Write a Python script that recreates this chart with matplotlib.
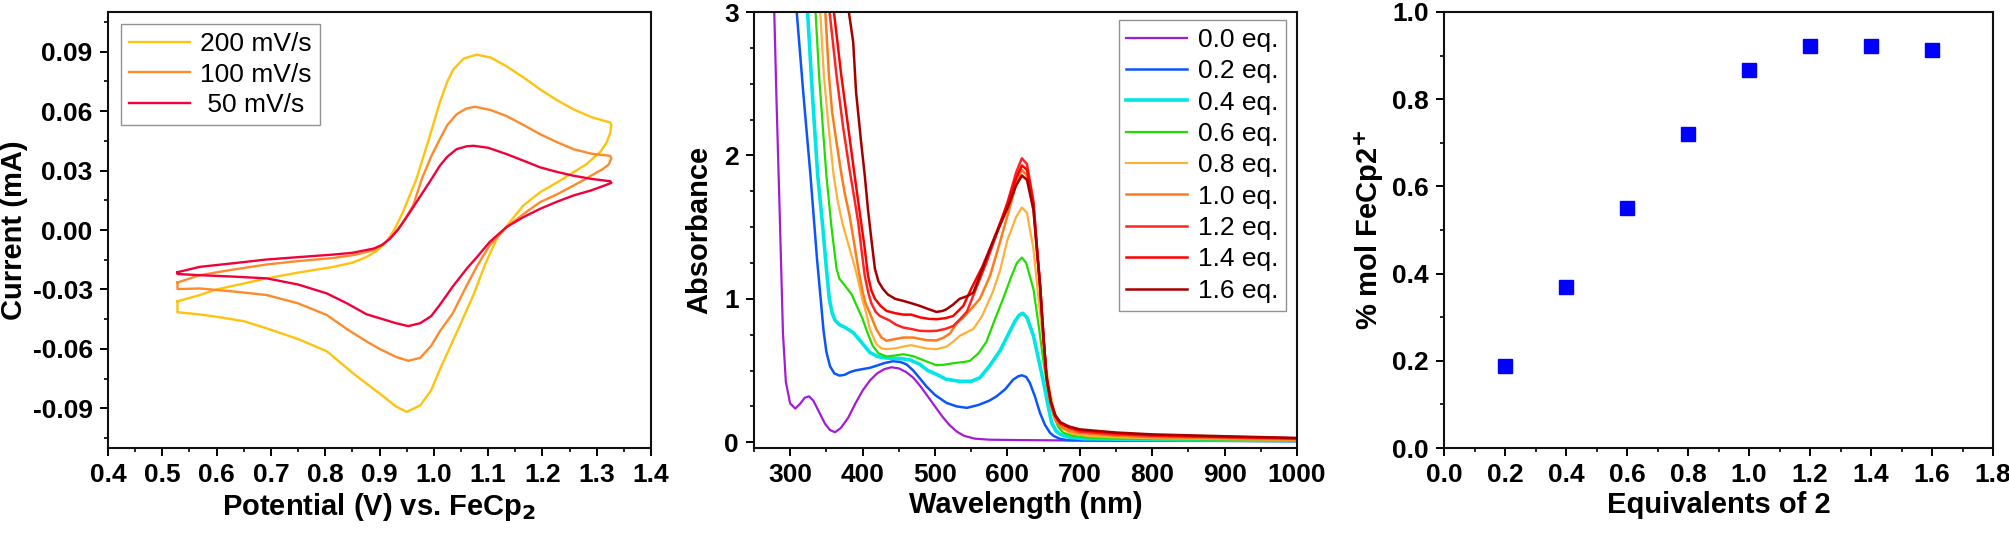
import numpy as np
import matplotlib
matplotlib.use("Agg")
import matplotlib.pyplot as plt
from matplotlib.ticker import MultipleLocator, FormatStrFormatter

plt.rcParams['font.family'] = ['Liberation Sans', 'DejaVu Sans']
plt.rcParams['axes.unicode_minus'] = False
plt.rcParams['mathtext.default'] = 'bf'

# ---- CV data (potential V vs FeCp2, current mA), one closed loop per scan rate
cv200 = [(0.528, -0.036), (0.569, -0.0328), (0.60, -0.030), (0.65, -0.027), (0.692, -0.0244),
         (0.75, -0.0215), (0.815, -0.0186), (0.85, -0.0165), (0.876, -0.0136), (0.895, -0.0105),
         (0.913, -0.006), (0.928, 0.0005), (0.943, 0.009), (0.955, 0.017), (0.968, 0.0258),
         (0.99, 0.045), (1.011, 0.0643), (1.025, 0.075), (1.036, 0.081), (1.055, 0.0865),
         (1.079, 0.0885), (1.105, 0.087), (1.134, 0.0826), (1.165, 0.077), (1.196, 0.0709),
         (1.227, 0.0655), (1.257, 0.0609), (1.29, 0.057), (1.325, 0.0542), (1.327, 0.053),
         (1.325, 0.049), (1.318, 0.044), (1.306, 0.0392), (1.28, 0.033), (1.257, 0.0291),
         (1.227, 0.024), (1.196, 0.0191), (1.165, 0.0124), (1.14, 0.004), (1.116, -0.0044),
         (1.095, -0.017), (1.073, -0.0328), (1.045, -0.050), (1.011, -0.0705), (0.995, -0.081),
         (0.975, -0.0885), (0.950, -0.0918), (0.93, -0.089), (0.905, -0.0835), (0.876, -0.0775),
         (0.85, -0.072), (0.803, -0.0612), (0.75, -0.055), (0.692, -0.0496), (0.65, -0.046),
         (0.60, -0.0438), (0.569, -0.0426), (0.528, -0.0415), (0.528, -0.036)]

cv100 = [(0.528, -0.0265), (0.569, -0.0228), (0.63, -0.020), (0.692, -0.0174), (0.75, -0.0157),
         (0.815, -0.0141), (0.855, -0.0125), (0.889, -0.0102), (0.91, -0.0065), (0.925, -0.0027),
         (0.945, 0.0045), (0.962, 0.0124), (0.978, 0.0258), (0.995, 0.037), (1.011, 0.0458),
         (1.025, 0.053), (1.042, 0.0584), (1.06, 0.0613), (1.076, 0.0622), (1.105, 0.0605),
         (1.134, 0.0575), (1.165, 0.053), (1.196, 0.0483), (1.227, 0.0443), (1.257, 0.0408),
         (1.29, 0.0385), (1.325, 0.0374), (1.327, 0.036), (1.322, 0.033), (1.31, 0.0305),
         (1.30, 0.0291), (1.28, 0.0258), (1.257, 0.0224), (1.227, 0.018), (1.196, 0.0141),
         (1.165, 0.008), (1.134, 0.0015), (1.103, -0.0077), (1.08, -0.018), (1.061, -0.0278),
         (1.035, -0.042), (1.011, -0.0512), (0.995, -0.0585), (0.975, -0.0645), (0.953, -0.066),
         (0.93, -0.064), (0.90, -0.060), (0.876, -0.0562), (0.84, -0.050), (0.803, -0.0429),
         (0.75, -0.037), (0.692, -0.0328), (0.63, -0.031), (0.569, -0.0295), (0.528, -0.0298),
         (0.528, -0.0265)]

cv50 = [(0.528, -0.0213), (0.569, -0.0186), (0.63, -0.0168), (0.692, -0.0149), (0.75, -0.0137),
        (0.815, -0.0124), (0.85, -0.0115), (0.889, -0.0094), (0.905, -0.0075), (0.919, -0.0044),
        (0.935, 0.0005), (0.956, 0.009), (0.975, 0.017), (0.996, 0.0258), (1.011, 0.0324),
        (1.025, 0.037), (1.042, 0.0408), (1.06, 0.0422), (1.073, 0.0425), (1.10, 0.0415),
        (1.134, 0.0383), (1.165, 0.035), (1.196, 0.0316), (1.227, 0.0293), (1.257, 0.0274),
        (1.29, 0.0258), (1.325, 0.0246), (1.327, 0.0238), (1.318, 0.0228), (1.29, 0.020),
        (1.257, 0.0174), (1.227, 0.0143), (1.196, 0.0107), (1.165, 0.0065), (1.134, 0.0015),
        (1.103, -0.006), (1.08, -0.0135), (1.061, -0.0194), (1.035, -0.0285), (1.011, -0.0378),
        (0.995, -0.0435), (0.975, -0.047), (0.953, -0.0485), (0.93, -0.047), (0.90, -0.0445),
        (0.876, -0.0425), (0.84, -0.037), (0.803, -0.032), (0.75, -0.0275), (0.692, -0.0244),
        (0.63, -0.0235), (0.569, -0.0228), (0.528, -0.0222), (0.528, -0.0213)]

cv_labels = ['200 mV/s', '100 mV/s', ' 50 mV/s']
cv_colors = ['#FFC20E', '#FF8A2B', '#F2003C']

# ---- UV-vis titration (wavelength nm, absorbance)
uv_00 = [(278, 3.0), (281, 2.4), (285, 1.69), (290, 0.76), (294, 0.42), (300, 0.27), (307, 0.235),
         (314, 0.27), (320, 0.31), (326, 0.32), (332, 0.29), (340, 0.21), (348, 0.13), (355, 0.085),
         (362, 0.07), (370, 0.10), (380, 0.17), (390, 0.27), (400, 0.36), (410, 0.43), (420, 0.48),
         (430, 0.51), (440, 0.523), (450, 0.515), (460, 0.49), (470, 0.45), (480, 0.39), (490, 0.32),
         (500, 0.25), (510, 0.18), (520, 0.12), (530, 0.075), (540, 0.045), (555, 0.025),
         (575, 0.018), (620, 0.015), (700, 0.012), (850, 0.01), (1000, 0.008)]
uv_02 = [(309, 3.0), (318, 2.44), (328, 1.86), (337, 1.28), (343, 0.95), (346, 0.78), (350, 0.63),
         (355, 0.53), (361, 0.48), (368, 0.465), (375, 0.47), (383, 0.49), (391, 0.502), (400, 0.51),
         (410, 0.519), (420, 0.535), (430, 0.552), (442, 0.565), (452, 0.56), (461, 0.542),
         (470, 0.50), (480, 0.44), (488, 0.39), (500, 0.33), (516, 0.274), (530, 0.25), (544, 0.24),
         (560, 0.26), (575, 0.29), (585, 0.32), (597, 0.37), (608, 0.437), (615, 0.46), (620, 0.467),
         (626, 0.455), (631, 0.414), (638, 0.32), (645, 0.205), (652, 0.12), (659, 0.065),
         (664, 0.044), (672, 0.025), (682, 0.015), (750, 0.012), (1000, 0.008)]
uv_04 = [(324, 3.0), (331, 2.4), (338, 1.86), (345, 1.5), (350, 1.21), (354, 1.0), (358, 0.9),
         (362, 0.85), (368, 0.82), (376, 0.80), (387, 0.765), (398, 0.70), (410, 0.626), (420, 0.60),
         (428, 0.59), (440, 0.585), (451, 0.584), (465, 0.575), (479, 0.544), (490, 0.50),
         (502, 0.474), (515, 0.44), (534, 0.425), (550, 0.425), (562, 0.45), (575, 0.53), (590, 0.64),
         (600, 0.74), (610, 0.84), (616, 0.885), (621, 0.90), (627, 0.87), (636, 0.742), (643, 0.58),
         (650, 0.416), (656, 0.26), (661, 0.137), (667, 0.08), (673, 0.055), (685, 0.035),
         (705, 0.025), (800, 0.018), (900, 0.015), (1000, 0.012)]
uv_06 = [(335, 3.0), (340, 2.55), (345, 2.2), (350, 1.86), (357, 1.5), (364, 1.21), (368, 1.14),
         (376, 1.09), (385, 1.03), (392, 0.95), (400, 0.86), (407, 0.76), (414, 0.672), (422, 0.62),
         (433, 0.598), (445, 0.605), (456, 0.614), (470, 0.60), (485, 0.57), (502, 0.537),
         (512, 0.54), (525, 0.551), (540, 0.56), (548, 0.567), (560, 0.62), (571, 0.70), (583, 0.86),
         (594, 1.0), (605, 1.15), (613, 1.25), (620, 1.288), (626, 1.25), (636, 1.067), (643, 0.82),
         (650, 0.556), (657, 0.33), (664, 0.184), (670, 0.11), (677, 0.067), (690, 0.045),
         (710, 0.033), (750, 0.026), (800, 0.022), (900, 0.018), (1000, 0.014)]
uv_08 = [(341.5, 3.0), (346.5, 2.556), (353, 2.2), (360, 1.86), (366, 1.67), (373, 1.51), (382, 1.35),
         (391, 1.19), (400, 0.99), (405, 0.90), (410, 0.79), (419, 0.684), (426, 0.655), (433, 0.649),
         (445, 0.655), (456, 0.667), (467, 0.677), (478, 0.665), (488, 0.654), (502, 0.649),
         (516, 0.667), (525, 0.70), (534, 0.742), (553, 0.79), (565, 0.88), (580, 1.05), (590, 1.2),
         (600, 1.41), (612, 1.57), (620, 1.637), (627, 1.60), (636, 1.347), (643, 1.0), (650, 0.672),
         (657, 0.40), (664, 0.23), (670, 0.14), (677, 0.09), (690, 0.06), (714, 0.042), (750, 0.035),
         (800, 0.028), (900, 0.022), (1000, 0.016)]
uv_10 = [(348.5, 3.0), (353.5, 2.556), (358, 2.3), (364, 2.09), (371, 1.86), (376, 1.72), (382, 1.58),
         (388, 1.40), (394, 1.21), (400, 1.05), (404, 0.97), (410, 0.90), (419, 0.788), (426, 0.73),
         (433, 0.707), (445, 0.72), (456, 0.73), (470, 0.73), (488, 0.712), (502, 0.71), (512, 0.73),
         (521, 0.76), (530, 0.83), (539, 0.87), (550, 0.93), (562, 1.0), (576, 1.16), (590, 1.40),
         (604, 1.65), (613, 1.82), (620, 1.90), (627, 1.86), (636, 1.62), (641, 1.32), (645, 1.08),
         (650, 0.70), (654, 0.44), (660, 0.26), (666, 0.16), (673, 0.11), (685, 0.08), (700, 0.065),
         (750, 0.045), (800, 0.036), (900, 0.027), (1000, 0.02)]
uv_12 = [(354.4, 3.0), (364, 2.556), (373, 2.2), (382, 1.9), (388, 1.72), (394, 1.53), (399, 1.32),
         (403, 1.16), (408, 1.04), (412, 0.97), (418, 0.91), (424, 0.88), (437, 0.85), (446, 0.82),
         (456, 0.80), (467, 0.79), (479, 0.777), (490, 0.775), (502, 0.777), (514, 0.79), (525, 0.81),
         (535, 0.86), (544, 0.91), (555, 1.05), (570, 1.24), (585, 1.45), (600, 1.67), (612, 1.88),
         (620, 1.98), (627, 1.94), (636, 1.68), (641, 1.35), (645, 1.11), (650, 0.72), (654, 0.45),
         (660, 0.27), (666, 0.18), (673, 0.13), (685, 0.10), (700, 0.075), (750, 0.055), (800, 0.045),
         (900, 0.034), (1000, 0.025)]
uv_14 = [(360.4, 3.0), (370.6, 2.556), (380, 2.2), (389, 1.86), (398, 1.53), (403, 1.35), (407.5, 1.16),
         (412, 1.06), (417, 1.0), (425, 0.95), (433, 0.916), (445, 0.90), (456, 0.89), (467, 0.89),
         (480, 0.87), (492, 0.86), (502, 0.858), (514, 0.865), (525, 0.88), (539, 0.95), (550, 1.07),
         (565, 1.22), (580, 1.40), (600, 1.66), (612, 1.84), (620, 1.93), (627, 1.90), (636, 1.66),
         (641, 1.34), (645, 1.10), (650, 0.72), (654, 0.45), (660, 0.28), (666, 0.185), (673, 0.135),
         (685, 0.105), (700, 0.085), (750, 0.063), (800, 0.05), (900, 0.038), (1000, 0.028)]
uv_16 = [(381, 3.0), (387, 2.79), (391, 2.44), (398, 2.09), (403, 1.86), (407.5, 1.62), (412, 1.42),
         (417, 1.21), (422, 1.12), (428, 1.07), (435, 1.03), (445, 1.0), (456, 0.986), (467, 0.97),
         (479, 0.951), (490, 0.93), (502, 0.909), (510, 0.915), (516, 0.928), (525, 0.96), (534, 1.0),
         (545, 1.02), (553, 1.044), (565, 1.20), (580, 1.40), (600, 1.63), (612, 1.79), (620, 1.86),
         (627, 1.83), (636, 1.62), (641, 1.33), (645, 1.10), (650, 0.73), (654, 0.46), (660, 0.285),
         (666, 0.19), (673, 0.14), (685, 0.11), (700, 0.09), (750, 0.068), (800, 0.055), (900, 0.042),
         (1000, 0.03)]

uv_series = [uv_00, uv_02, uv_04, uv_06, uv_08, uv_10, uv_12, uv_14, uv_16]
uv_labels = ['0.0 eq.', '0.2 eq.', '0.4 eq.', '0.6 eq.', '0.8 eq.', '1.0 eq.', '1.2 eq.', '1.4 eq.', '1.6 eq.']
uv_colors = ['#A21CD6', '#0A55FF', '#00E6E6', '#22DD00', '#FFB038', '#FF7A1A', '#FF2424', '#FF0000', '#A50000']
uv_widths = [1.6, 1.8, 2.6, 1.6, 1.6, 1.8, 1.8, 1.8, 1.8]

# ---- fraction oxidised vs equivalents
equiv = [0.2, 0.4, 0.6, 0.8, 1.0, 1.2, 1.4, 1.6]
frac_ox = [0.188, 0.370, 0.550, 0.720, 0.866, 0.923, 0.921, 0.913]

TICK_FS = 19
LEG_FS = 19
LAB_FS = 21

fig = plt.figure(figsize=(20.09, 5.37), dpi=100)
ax1 = fig.add_axes([108 / 2009, 89 / 537, 543 / 2009, 436 / 537])
ax2 = fig.add_axes([754 / 2009, 89 / 537, 543 / 2009, 436 / 537])
ax3 = fig.add_axes([1444 / 2009, 89 / 537, 549 / 2009, 436 / 537])


def style(ax):
    for sp in ax.spines.values():
        sp.set_linewidth(1.5)
        sp.set_color('#111111')
    ax.tick_params(which='major', direction='out', length=6, width=1.4, labelsize=TICK_FS,
                   pad=5, top=False, right=False)
    ax.tick_params(which='minor', direction='out', length=3.2, width=1.2, top=False, right=False)
    for lbl in ax.get_xticklabels() + ax.get_yticklabels():
        lbl.set_fontweight('bold')


# panel 1: cyclic voltammograms
for data, lab, col in zip([cv200, cv100, cv50], cv_labels, cv_colors):
    v, i = zip(*data)
    ax1.plot(v, i, color=col, lw=1.7, label=lab)
ax1.set_xlim(0.4, 1.4)
ax1.set_ylim(-0.11, 0.11)
ax1.xaxis.set_major_locator(MultipleLocator(0.1))
ax1.xaxis.set_minor_locator(MultipleLocator(0.05))
ax1.yaxis.set_major_locator(MultipleLocator(0.03))
ax1.yaxis.set_minor_locator(MultipleLocator(0.015))
ax1.xaxis.set_major_formatter(FormatStrFormatter('%.1f'))
ax1.yaxis.set_major_formatter(FormatStrFormatter('%.2f'))
ax1.set_xlabel(r'Potential (V) vs. FeCp$_\mathbf{2}$', fontsize=LAB_FS, fontweight='bold', labelpad=3)
ax1.set_ylabel('Current (mA)', fontsize=LAB_FS, fontweight='bold', labelpad=3)
style(ax1)
leg1 = ax1.legend(loc='upper left', bbox_to_anchor=(0.024, 0.9725), borderaxespad=0,
                  fontsize=LEG_FS, frameon=True, fancybox=False, edgecolor='#777777',
                  handlelength=2.3, handletextpad=0.4, labelspacing=0.25, borderpad=0.3)
leg1.get_frame().set_linewidth(1.0)

# panel 2: UV-vis spectra
for data, lab, col, lw in zip(uv_series, uv_labels, uv_colors, uv_widths):
    wl, ab = zip(*data)
    ax2.plot(wl, ab, color=col, lw=lw, label=lab)
ax2.set_xlim(250, 1000)
ax2.set_ylim(-0.04, 3.0)
ax2.xaxis.set_major_locator(MultipleLocator(100))
ax2.xaxis.set_minor_locator(MultipleLocator(50))
ax2.yaxis.set_major_locator(MultipleLocator(1))
ax2.yaxis.set_minor_locator(MultipleLocator(0.25))
ax2.set_xticks(np.arange(300, 1001, 100))
ax2.set_xlabel('Wavelength (nm)', fontsize=LAB_FS, fontweight='bold', labelpad=3)
ax2.set_ylabel('Absorbance', fontsize=LAB_FS, fontweight='bold', labelpad=8)
style(ax2)
leg2 = ax2.legend(loc='upper right', bbox_to_anchor=(0.98, 0.982), borderaxespad=0,
                  fontsize=LEG_FS, frameon=True, fancybox=False, edgecolor='#777777',
                  handlelength=2.3, handletextpad=0.4, labelspacing=0.28, borderpad=0.3)
leg2.get_frame().set_linewidth(1.0)

# panel 3: conversion
ax3.plot(equiv, frac_ox, linestyle='none', marker='s', ms=10, color='#0000FF')
ax3.set_xlim(0, 1.8)
ax3.set_ylim(0, 1.0)
ax3.xaxis.set_major_locator(MultipleLocator(0.2))
ax3.xaxis.set_minor_locator(MultipleLocator(0.1))
ax3.yaxis.set_major_locator(MultipleLocator(0.2))
ax3.yaxis.set_minor_locator(MultipleLocator(0.1))
ax3.xaxis.set_major_formatter(FormatStrFormatter('%.1f'))
ax3.yaxis.set_major_formatter(FormatStrFormatter('%.1f'))
ax3.set_xlabel('Equivalents of 2', fontsize=LAB_FS, fontweight='bold', labelpad=3)
ax3.set_ylabel(r'% mol FeCp2$^\mathbf{+}$', fontsize=LAB_FS, fontweight='bold', labelpad=4)
style(ax3)

fig.savefig('out.png', dpi=100)
